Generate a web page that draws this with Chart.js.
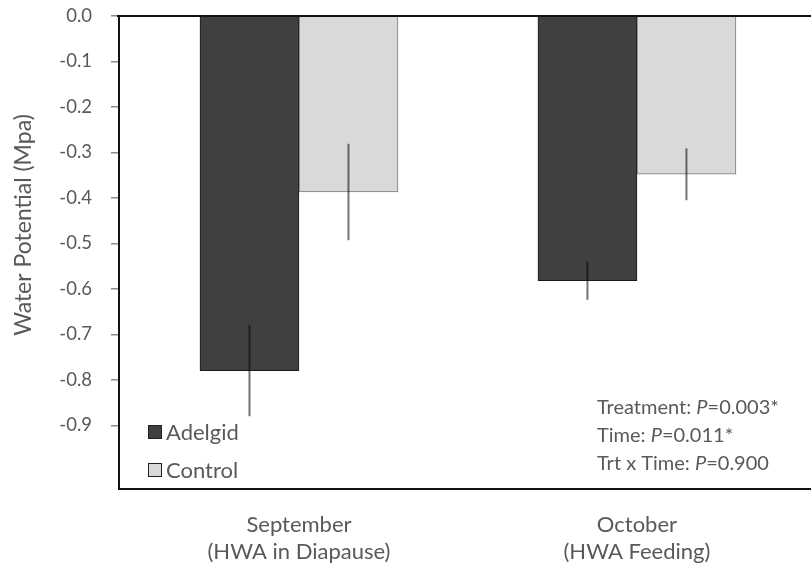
<!DOCTYPE html>
<html><head><meta charset="utf-8">
<script src="https://cdn.jsdelivr.net/npm/chart.js@4"></script>
<style>html,body{margin:0;padding:0;background:#fff;overflow:hidden}#wrap{width:811px;height:576px}</style>
</head><body><div id="wrap"><canvas id="c" width="811" height="576"></canvas></div>
<script>
// ---- data ----
const categoryLines = [["September", "(HWA in Diapause)"], ["October", "(HWA Feeding)"]];
const seriesNames = ["Adelgid", "Control"];
const adelgidValues = [-0.78, -0.582];
const controlValues = [-0.387, -0.348];
const adelgidErrors = [0.10, 0.042];
const controlErrors = [0.106, 0.057];
const yTickValues = [0, -0.1, -0.2, -0.3, -0.4, -0.5, -0.6, -0.7, -0.8, -0.9];
const statLabels = ["Treatment: ", "Time: ", "Trt x Time: "];
const statValues = ["=0.003*", "=0.011*", "=0.900"];
const yTitle = "Water Potential (Mpa)";

const FONT = "Lato";
const TEXT = "#595959";
const seriesFill = ["#404040", "#d9d9d9"];
const seriesBorder = ["#1a1a1a", "#7a7a7a"];
const errors = [adelgidErrors, controlErrors];

const toPoints = vals => vals.map((v, i) => ({x: i, y: v}));

const framePlugin = {
  id: "frame",
  afterDraw(chart) {
    const {ctx, chartArea: a} = chart;
    ctx.save();
    ctx.strokeStyle = "#111";
    ctx.lineWidth = 2;
    ctx.beginPath();
    ctx.moveTo(a.left - 2, a.top);
    ctx.lineTo(a.right, a.top);
    ctx.stroke();
    ctx.restore();
  }
};

const errorPlugin = {
  id: "errbars",
  afterDatasetsDraw(chart) {
    const {ctx} = chart;
    const ys = chart.scales.y;
    ctx.save();
    ctx.strokeStyle = "rgba(0,0,0,0.55)";
    ctx.lineWidth = 2;
    chart.data.datasets.forEach((ds, di) => {
      const meta = chart.getDatasetMeta(di);
      meta.data.forEach((bar, j) => {
        const v = ds.data[j].y, e = errors[di][j];
        ctx.beginPath();
        ctx.moveTo(bar.x, ys.getPixelForValue(v + e));
        ctx.lineTo(bar.x, ys.getPixelForValue(v - e));
        ctx.stroke();
      });
    });
    ctx.restore();
  }
};

const annotPlugin = {
  id: "annot",
  afterDraw(chart) {
    const {ctx} = chart;
    ctx.save();
    ctx.fillStyle = TEXT;
    ctx.font = `23px ${FONT}`;
    ctx.textAlign = "center";
    ctx.textBaseline = "middle";
    ctx.translate(24, 225);
    ctx.rotate(-Math.PI / 2);
    ctx.fillText(yTitle, 0, 0);
    ctx.restore();

    ctx.save();
    const legY = [432, 470];
    chart.data.datasets.forEach((ds, i) => {
      ctx.fillStyle = ds.backgroundColor;
      ctx.fillRect(148, legY[i] - 7, 14, 14);
      ctx.strokeStyle = "#222";
      ctx.lineWidth = 1;
      ctx.strokeRect(148.5, legY[i] - 6.5, 13, 13);
      ctx.fillStyle = TEXT;
      ctx.font = `22px ${FONT}`;
      ctx.textAlign = "left";
      ctx.textBaseline = "middle";
      ctx.fillText(ds.label, 166, legY[i] + 1);
    });
    ctx.restore();

    ctx.save();
    ctx.fillStyle = TEXT;
    ctx.textBaseline = "middle";
    ctx.textAlign = "left";
    const sy = [408, 436, 464];
    statLabels.forEach((lab, i) => {
      let x = 597;
      ctx.font = `20px ${FONT}`;
      ctx.fillText(lab, x, sy[i]);
      x += ctx.measureText(lab).width;
      ctx.font = `italic 20px ${FONT}`;
      ctx.fillText("P", x, sy[i]);
      x += ctx.measureText("P").width;
      ctx.font = `20px ${FONT}`;
      ctx.fillText(statValues[i], x, sy[i]);
    });
    ctx.restore();
  }
};

new Chart(document.getElementById("c"), {
  type: "bar",
  data: {
    datasets: [
      {label: seriesNames[0], data: toPoints(adelgidValues), backgroundColor: seriesFill[0], borderColor: seriesBorder[0], borderWidth: 1},
      {label: seriesNames[1], data: toPoints(controlValues), backgroundColor: seriesFill[1], borderColor: seriesBorder[1], borderWidth: 1}
    ]
  },
  options: {
    responsive: false,
    animation: false,
    devicePixelRatio: 1,
    layout: {padding: {top: 16, right: 0, bottom: 0, left: 0}},
    barThickness: 99,
    plugins: {legend: {display: false}, tooltip: {enabled: false}},
    scales: {
      x: {
        type: "linear",
        offset: false,
        min: -0.5325,
        max: 1.515,
        afterBuildTicks: s => { s.ticks = categoryLines.map((_, i) => ({value: i})); },
        afterFit: s => { s.height = 87; s.paddingLeft = 0; s.paddingRight = 0; },
        grid: {display: false, drawTicks: false},
        border: {display: true, color: "#111", width: 2},
        ticks: {
          padding: 22,
          color: TEXT,
          font: {family: FONT, size: 22, lineHeight: 1.25},
          callback: (v, i) => categoryLines[i]
        }
      },
      y: {
        min: -1.04,
        max: 0,
        afterBuildTicks: s => { s.ticks = yTickValues.map(v => ({value: v})); },
        afterFit: s => { s.width = 119; s.paddingTop = 0; s.paddingBottom = 0; },
        grid: {drawOnChartArea: false, drawTicks: true, tickLength: 8, color: "#8a8a8a", lineWidth: 1.5},
        border: {display: true, color: "#111", width: 2},
        ticks: {
          padding: 19,
          color: TEXT,
          font: {family: FONT, size: 18.5},
          callback: v => v.toFixed(1)
        }
      }
    }
  },
  plugins: [framePlugin, errorPlugin, annotPlugin]
});
</script></body></html>
